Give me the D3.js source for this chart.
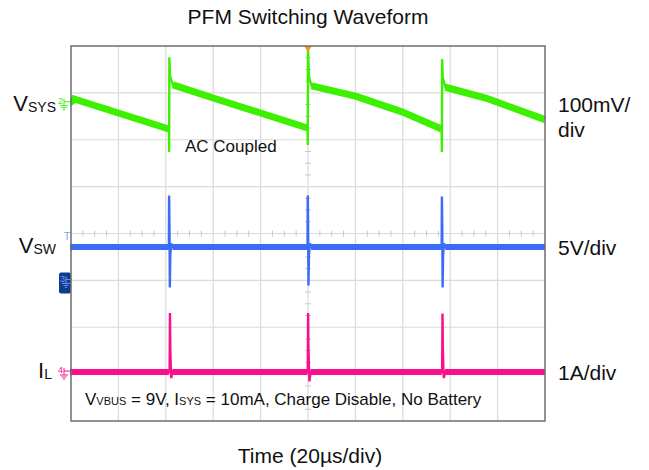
<!DOCTYPE html>
<html>
<head>
<meta charset="utf-8">
<script src="https://cdn.jsdelivr.net/npm/d3@7"></script>
<style>
body { margin: 0; background: #fff; }
text { font-family: "Liberation Sans", Arial, sans-serif; fill: #111; }
</style>
</head>
<body>
<svg id="scope" width="649" height="470"></svg>
<script>
// scope grid: 10 time divisions (20 us/div), 8 vertical divisions
var timeTicks = d3.range(0, 201, 20);
var divTicks = d3.range(-4, 5, 1);
var spikeTimes = [41.5, 100, 156.6];

// VSYS, AC coupled, mV
var vsysT  = [0, 41.3, 41.4, 41.5, 41.8, 43, 60, 80, 99.8, 99.9, 100, 100.4, 101.5, 120, 140, 156.35, 156.5, 156.6, 156.9, 158, 175, 200];
var vsysMV = [10, -56, -105, 97, 57, 38, 10, -22, -54, -90, 117, 55, 36, 14, -20, -56, -105, 93, 53, 33, 10, -36];

// VSW, V
var vswT = [0, 41.3, 41.4, 41.55, 41.7, 41.9, 42.3, 42.8, 99.8, 99.9, 100.05, 100.2, 100.4, 100.8, 101.3, 156.4, 156.5, 156.65, 156.8, 157, 157.4, 157.9, 200];
var vswV = [0, 0, 5.5, 2.2, -4.3, -0.8, 0.4, 0, 0, 5.5, 2.2, -4.1, -0.8, 0.4, 0, 0, 5.4, 2.2, -4.3, -0.8, 0.4, 0, 0];

// IL, A
var ilT = [0, 41.3, 41.6, 41.75, 41.9, 42.1, 42.3, 42.7, 99.8, 99.9, 100.05, 100.2, 100.4, 100.6, 101.1, 156.4, 156.6, 156.75, 156.9, 157.1, 157.3, 157.8, 200];
var ilA = [0, 0, 0, 1.26, 0.5, 0.1, -0.13, 0, 0, 0, 1.26, 0.5, 0.1, -0.2, 0, 0, 0, 1.25, 0.5, 0.1, -0.13, 0, 0];

var svg = d3.select("#scope"),
    margin = {top: 46, right: 104, bottom: 49, left: 71},
    width = +svg.attr("width") - margin.left - margin.right,
    height = +svg.attr("height") - margin.top - margin.bottom;

var x = d3.scaleLinear().domain([0, 200]).range([0, width]),
    y = d3.scaleLinear().domain([-4, 4]).range([height, 0]);

var g = svg.append("g").attr("transform", "translate(" + margin.left + "," + margin.top + ")");

// grid
g.append("g").selectAll("line").data(timeTicks.slice(1, -1)).enter().append("line")
  .attr("x1", function(d) { return x(d); }).attr("x2", function(d) { return x(d); })
  .attr("y1", 0).attr("y2", height)
  .attr("stroke", "#dadada").attr("stroke-width", 1.2);
g.append("g").selectAll("line").data(divTicks.slice(1, -1)).enter().append("line")
  .attr("y1", function(d) { return y(d); }).attr("y2", function(d) { return y(d); })
  .attr("x1", 0).attr("x2", width)
  .attr("stroke", "#dadada").attr("stroke-width", 1.2);

// minor ticks on the centre lines
var minorX = d3.range(0, 201, 5).filter(function(d) { return d % 20 != 0; });
var minorY = d3.range(-4, 4.01, 0.25).filter(function(d) { return d % 1 != 0; });
g.append("g").selectAll("line").data(minorX).enter().append("line")
  .attr("x1", function(d) { return x(d); }).attr("x2", function(d) { return x(d); })
  .attr("y1", y(0) - 3).attr("y2", y(0) + 3)
  .attr("stroke", "#c8c8c8");
g.append("g").selectAll("line").data(minorY).enter().append("line")
  .attr("y1", function(d) { return y(d); }).attr("y2", function(d) { return y(d); })
  .attr("x1", x(100) - 3).attr("x2", x(100) + 3)
  .attr("stroke", "#c8c8c8");

// channels
var channels = [
  {name: "vsys", t: vsysT, v: vsysMV, pos: 2.79, perDiv: 100, color: "#3cf000", band: 7},
  {name: "vsw",  t: vswT,  v: vswV,   pos: -0.29, perDiv: 5,  color: "#3b6cf6", band: 6},
  {name: "il",   t: ilT,   v: ilA,    pos: -2.955, perDiv: 1, color: "#fa0f8c", band: 6}
];

function inSpike(t) {
  return spikeTimes.some(function(s) { return t > s - 0.15 && t < s + 1.0; });
}

channels.forEach(function(c) {
  var pts = c.t.map(function(t, i) { return {t: t, v: c.v[i]}; });
  var line = d3.line()
    .x(function(d) { return x(d.t); })
    .y(function(d) { return y(c.pos + d.v / c.perDiv); });

  g.append("path").datum(pts)
    .attr("fill", "none").attr("stroke", c.color).attr("stroke-width", 2.4)
    .attr("d", line);
  g.append("path").datum(pts)
    .attr("fill", "none").attr("stroke", c.color).attr("stroke-width", c.band)
    .attr("stroke-linejoin", "round")
    .attr("d", line.defined(function(d) { return !inSpike(d.t); }));

  // offset arrow on the left edge
  var y0 = y(c.pos);
  g.append("path")
    .attr("d", "M-1," + (y0 - 4) + "L5," + y0 + "L-1," + (y0 + 4) + "Z")
    .attr("fill", c.color);
  c.y0 = y0;
});

function ground(sel, gx, gy, color) {
  var gg = sel.append("g").attr("stroke", color).attr("stroke-width", 1);
  gg.append("line").attr("x1", gx).attr("x2", gx).attr("y1", gy - 4).attr("y2", gy + 3);
  gg.append("line").attr("x1", gx - 4).attr("x2", gx + 4).attr("y1", gy + 3).attr("y2", gy + 3);
  gg.append("line").attr("x1", gx - 2.5).attr("x2", gx + 2.5).attr("y1", gy + 5).attr("y2", gy + 5);
  gg.append("line").attr("x1", gx - 1).attr("x2", gx + 1).attr("y1", gy + 7).attr("y2", gy + 7);
  gg.append("line").attr("x1", gx).attr("x2", gx + 6).attr("y1", gy - 1).attr("y2", gy - 1);
}

// channel 2 / 4 markers
ground(g, -7, channels[0].y0, channels[0].color);
g.append("text").attr("x", -13).attr("y", channels[0].y0 + 1).attr("font-size", 9)
  .style("fill", channels[0].color).text("2");
ground(g, -7, channels[2].y0, channels[2].color);
g.append("text").attr("x", -13).attr("y", channels[2].y0 + 1).attr("font-size", 9)
  .style("fill", channels[2].color).text("4");

// trigger level and ch3 box
g.append("text").attr("x", -7).attr("y", channels[1].y0 - 7).attr("font-size", 10)
  .style("fill", "#7c9cff").text("T");
g.append("rect").attr("x", -12).attr("y", y(-0.83)).attr("width", 12).attr("height", 21)
  .attr("rx", 2).attr("fill", "#0e3d8c");
g.append("text").attr("x", -11).attr("y", y(-0.83) + 10).attr("font-size", 9)
  .style("fill", "#6f93ff").text("3");
ground(g, -5, y(-0.83) + 8, "#6f93ff");

// trigger position
g.append("path")
  .attr("d", "M" + (x(100) - 4) + ",0L" + (x(100) + 4) + ",0L" + x(100) + ",6Z")
  .attr("fill", "#f7941d");

// frame
g.append("rect").attr("width", width).attr("height", height)
  .attr("fill", "none").attr("stroke", "#6e6e6e").attr("stroke-width", 1.5);

// texts
svg.append("text").attr("x", 308).attr("y", 24).attr("text-anchor", "middle")
  .attr("font-size", 21).text("PFM Switching Waveform");
svg.append("text").attr("x", 310).attr("y", 463).attr("text-anchor", "middle")
  .attr("font-size", 21).text("Time (20\u00b5s/div)");
svg.append("text").attr("x", 185).attr("y", 152).attr("font-size", 17).text("AC Coupled");

function sublabel(xp, yp, main, sub) {
  var t = svg.append("text").attr("x", xp).attr("y", yp).attr("text-anchor", "end").attr("font-size", 22);
  t.append("tspan").text(main);
  t.append("tspan").attr("font-size", 14).attr("dy", 1).text(sub);
}
sublabel(56, 111, "V", "SYS");
sublabel(56, 253, "V", "SW");
sublabel(52, 378, "I", "L");

svg.append("text").attr("x", 558).attr("y", 112).attr("font-size", 21).text("100mV/");
svg.append("text").attr("x", 558).attr("y", 137).attr("font-size", 21).text("div");
svg.append("text").attr("x", 558).attr("y", 255).attr("font-size", 21).text("5V/div");
svg.append("text").attr("x", 558).attr("y", 380).attr("font-size", 21).text("1A/div");

var note = svg.append("text").attr("x", 85).attr("y", 405).attr("font-size", 17);
note.append("tspan").text("V");
note.append("tspan").attr("font-size", 11).text("VBUS");
note.append("tspan").text(" = 9V, I");
note.append("tspan").attr("font-size", 11).text("SYS");
note.append("tspan").text(" = 10mA, Charge Disable, No Battery");
</script>
</body>
</html>
